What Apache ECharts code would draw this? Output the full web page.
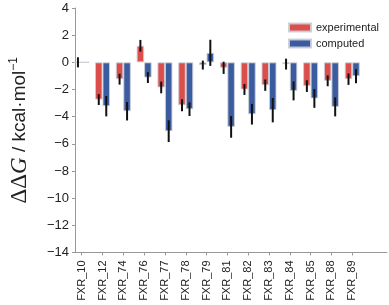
<!DOCTYPE html>
<html>
<head>
<meta charset="utf-8">
<script src="https://cdn.jsdelivr.net/npm/echarts@6/dist/echarts.min.js"></script>
<style>
  html, body { margin: 0; padding: 0; background: #fff; }
  #chart { width: 389px; height: 305px; }
</style>
</head>
<body>
<div id="chart"></div>
<script>
  // 分类和数值
  var names = ['FXR_10','FXR_12','FXR_74','FXR_76','FXR_77','FXR_78','FXR_79','FXR_81','FXR_82','FXR_83','FXR_84','FXR_85','FXR_88','FXR_89'];
  var experimental = [0, -2.74, -1.24, 1.22, -1.85, -3.16, -0.2, -0.4, -2.0, -1.68, -0.13, -1.75, -1.36, -1.24];
  var experimentalErr = [0.37, 0.4, 0.4, 0.43, 0.43, 0.44, 0.33, 0.45, 0.4, 0.42, 0.4, 0.43, 0.4, 0.42];
  var computed = [0, -3.23, -3.6, -1.12, -5.07, -3.45, 0.7, -4.75, -3.82, -3.52, -2.1, -2.66, -3.28, -1.02];
  var computedErr = [0, 0.75, 0.68, 0.4, 0.8, 0.5, 0.96, 0.8, 0.76, 0.9, 0.7, 0.69, 0.7, 0.52];

  var barW = 7.5;
  var redColor = '#db4e4c';
  var blueColor = '#3b5c9f';
  var tickIdx = names.map(function (n, i) { return i; });

  function barData(vals) {
    return vals.map(function (v, i) { return [i, v]; });
  }
  function errData(vals, errs) {
    var out = [];
    for (var i = 0; i < vals.length; i++) {
      if (errs[i] > 0) out.push([i, vals[i] - errs[i], vals[i] + errs[i]]);
    }
    return out;
  }
  // 误差线，左右偏半个柱宽
  function errRender(shift) {
    return function (params, api) {
      var lo = api.coord([api.value(0), api.value(1)]);
      var hi = api.coord([api.value(0), api.value(2)]);
      var x = lo[0] + shift;
      return {
        type: 'line',
        shape: { x1: x, y1: lo[1], x2: x, y2: hi[1] },
        style: { stroke: '#111', lineWidth: 2 }
      };
    };
  }

  var chart = echarts.init(document.getElementById('chart'));
  var option = {
    animation: false,
    grid: { left: 61, right: 2, top: 8, bottom: 52.5, containLabel: false },
    legend: {
      orient: 'vertical',
      left: 283,
      top: 17,
      itemWidth: 22,
      itemHeight: 8,
      itemGap: 5,
      icon: 'rect',
      textStyle: { fontFamily: 'Liberation Sans, Arial', fontSize: 11, color: '#222', lineHeight: 11 },
      data: ['experimental', 'computed']
    },
    xAxis: {
      type: 'value',
      min: -0.322,
      max: 14.67,
      axisLine: { onZero: false, lineStyle: { color: '#999', width: 1 } },
      axisTick: { show: true, length: 3, customValues: tickIdx, lineStyle: { color: '#999' } },
      splitLine: { show: false },
      axisLabel: {
        customValues: tickIdx,
        rotate: 90,
        margin: 8,
        fontFamily: 'Liberation Sans, Arial',
        fontSize: 11,
        color: '#222',
        formatter: function (v) { return names[Math.round(v)] || ''; }
      }
    },
    yAxis: {
      type: 'value',
      min: -14,
      max: 4,
      interval: 2,
      name: '{d|ΔΔ}{g|G}{t| / kcal·mol}{s|−1}',
      nameLocation: 'middle',
      nameGap: 44,
      nameRotate: 90,
      nameTextStyle: {
        rich: {
          d: { fontFamily: 'Liberation Serif, Times New Roman', fontSize: 23, color: '#222' },
          g: { fontFamily: 'Liberation Serif, Times New Roman', fontStyle: 'italic', fontSize: 23, color: '#222' },
          t: { fontFamily: 'Liberation Sans, Arial', fontSize: 19, color: '#222' },
          s: { fontFamily: 'Liberation Sans, Arial', fontSize: 12, color: '#222', verticalAlign: 'top', padding: [0, 0, 11, 0] }
        }
      },
      axisLine: { show: true, onZero: false, lineStyle: { color: '#999', width: 1 } },
      axisTick: { show: true, length: 3, lineStyle: { color: '#999' } },
      splitLine: { show: false },
      axisLabel: {
        margin: 6,
        fontFamily: 'Liberation Sans, Arial',
        fontSize: 13,
        color: '#222',
        formatter: function (v) { return v < 0 ? '−' + Math.abs(v) : String(v); }
      }
    },
    series: [
      {
        name: 'experimental',
        type: 'bar',
        barWidth: barW,
        barGap: '0%',
        itemStyle: { color: redColor, borderColor: 'rgba(205,205,215,0.9)', borderWidth: 1 },
        data: barData(experimental)
      },
      {
        name: 'computed',
        type: 'bar',
        barWidth: barW,
        barGap: '0%',
        itemStyle: { color: blueColor, borderColor: 'rgba(205,205,215,0.9)', borderWidth: 1 },
        data: barData(computed)
      },
      {
        type: 'custom',
        renderItem: errRender(-barW / 2),
        encode: { x: 0, y: [1, 2] },
        data: errData(experimental, experimentalErr),
        z: 5
      },
      {
        type: 'custom',
        renderItem: errRender(barW / 2),
        encode: { x: 0, y: [1, 2] },
        data: errData(computed, computedErr),
        z: 5
      }
    ]
  };
  chart.setOption(option);
</script>
</body>
</html>
